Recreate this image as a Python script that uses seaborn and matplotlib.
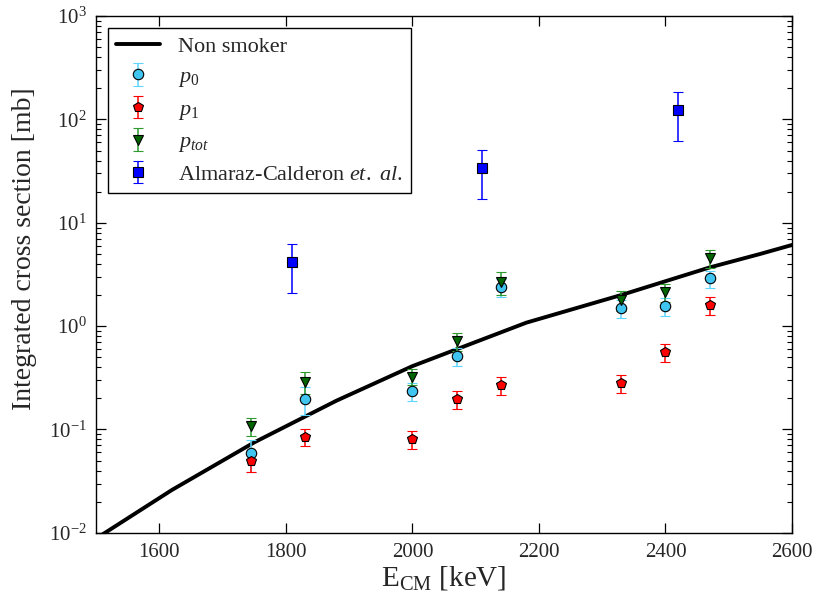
import numpy as np
import pandas as pd
import matplotlib
matplotlib.use("Agg")
import matplotlib.pyplot as plt
from matplotlib.ticker import LogLocator, NullFormatter
import seaborn as sns

# NON-SMOKER curve
ns_energy = [1500, 1620, 1750, 1880, 2000, 2180, 2330, 2470, 2550, 2600]
ns_sigma = [0.0088, 0.026, 0.075, 0.19, 0.41, 1.08, 2.0, 3.7, 5.0, 6.1]

# measured points
energy = [1745, 1830, 2000, 2070, 2140, 2330, 2400, 2470]
p0 = [0.059, 0.198, 0.236, 0.51, 2.38, 1.49, 1.57, 2.9]
p0_err = [0.02, 0.06, 0.047, 0.1, 0.48, 0.3, 0.32, 0.55]
p1 = [0.049, 0.0855, 0.081, 0.196, 0.27, 0.28, 0.558, 1.59]
p1_err = [0.01, 0.016, 0.016, 0.038, 0.055, 0.055, 0.11, 0.31]
ptot = [0.108, 0.291, 0.325, 0.72, 2.67, 1.79, 2.14, 4.54]
ptot_err = [0.022, 0.07, 0.058, 0.14, 0.65, 0.4, 0.43, 0.92]

# Almaraz-Calderon et al.
ac_energy = [1810, 2110, 2420]
ac_sigma = [4.15, 33.7, 124]
ac_err = [2.07, 16.8, 62]

sns.set_style("ticks")
plt.rcParams["font.family"] = ["Liberation Serif", "DejaVu Serif"]
plt.rcParams["mathtext.fontset"] = "custom"
plt.rcParams["mathtext.rm"] = "Liberation Serif"
plt.rcParams["mathtext.it"] = "Liberation Serif:italic"
plt.rcParams["xtick.direction"] = "in"
plt.rcParams["ytick.direction"] = "in"
plt.rcParams["xtick.top"] = True
plt.rcParams["ytick.right"] = True

fig = plt.figure(figsize=(8.14, 5.96), dpi=100)
ax = fig.add_axes([0.118, 0.106, 0.855, 0.867])

ns = pd.DataFrame({"E": ns_energy, "sigma": ns_sigma})
sns.lineplot(data=ns, x="E", y="sigma", color="black", lw=2.8, ax=ax,
             label="Non smoker", legend=False)

common = dict(ls="none", capsize=3.5, elinewidth=1.1, capthick=1.1,
              markeredgecolor="black", markeredgewidth=0.8)
ax.errorbar(energy, p0, yerr=p0_err, fmt="o", ms=7.5, color="#40c4f0",
            ecolor="#5cd6ff", label="$p_0$", **common)
ax.errorbar(energy, p1, yerr=p1_err, fmt="p", ms=7.5, color="red",
            ecolor="red", label="$p_1$", **common)
ax.errorbar(energy, ptot, yerr=ptot_err, fmt="v", ms=7.5, color="#006400",
            ecolor="#2e9a2e", label="$p_{tot}$", **common)
ax.errorbar(ac_energy, ac_sigma, yerr=ac_err, fmt="s", ms=7.5, color="blue",
            ecolor="blue", label="Almaraz-Calderon $et.$ $al.$", **common)

ax.set_yscale("log")
ax.set_xlim(1500, 2600)
ax.set_ylim(1e-2, 1e3)
ax.set_xticks([1600, 1800, 2000, 2200, 2400, 2600])
ax.xaxis.set_minor_locator(plt.NullLocator())
ax.yaxis.set_minor_locator(LogLocator(base=10, subs=np.arange(2, 10), numticks=100))
ax.yaxis.set_minor_formatter(NullFormatter())
ax.tick_params(axis="both", which="major", length=7, width=0.9, labelsize=15, pad=7,
               color="black")
ax.tick_params(axis="y", which="minor", length=3.5, width=0.8, color="black")
for s in ax.spines.values():
    s.set_linewidth(1.0)
    s.set_color("black")

ax.set_xlabel("E$_{\\mathrm{CM}}$ [keV]", fontsize=21, labelpad=2)
ax.set_ylabel("Integrated cross section [mb]", fontsize=20)
ax.yaxis.set_label_coords(-0.085, 0.55)

leg = ax.legend(loc="upper left", fontsize=16, numpoints=1, handlelength=2.0,
                fancybox=False, edgecolor="black", framealpha=1,
                borderaxespad=0.55, labelspacing=0.45, borderpad=0.35)
leg.get_frame().set_linewidth(1.0)

fig.savefig("out.png", dpi=100)
